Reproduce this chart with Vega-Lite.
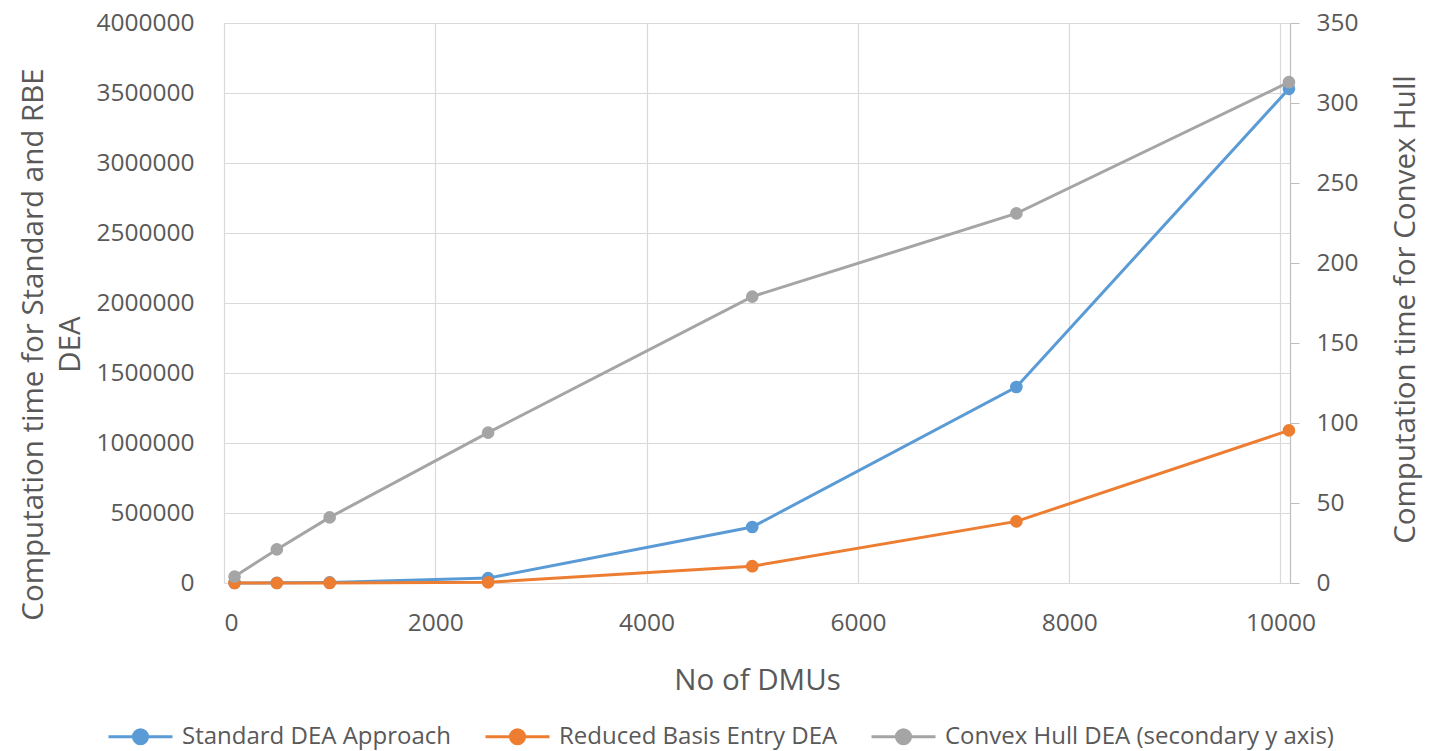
{
  "$schema": "https://vega.github.io/schema/vega-lite/v6.json",
  "width": 1066,
  "height": 560,
  "autosize": {"type": "none"},
  "padding": {"left": 224, "top": 23, "right": 150, "bottom": 168},
  "background": "white",
  "config": {
    "font": "Open Sans",
    "view": {"stroke": null},
    "axis": {
      "labelColor": "#595959",
      "titleColor": "#595959",
      "labelFont": "Open Sans",
      "titleFont": "Open Sans",
      "labelFontSize": 24.5,
      "titleFontSize": 29.5,
      "titleFontWeight": "normal",
      "gridColor": "#d9d9d9",
      "gridWidth": 1.2,
      "domain": false,
      "ticks": false
    },
    "legend": {
      "labelFont": "Open Sans",
      "labelFontSize": 24,
      "labelColor": "#595959",
      "labelLimit": 0
    }
  },
  "data": {
    "values": [
      {"n": 100, "series": "Standard DEA Approach", "t": 50},
      {"n": 500, "series": "Standard DEA Approach", "t": 1000},
      {"n": 1000, "series": "Standard DEA Approach", "t": 4000},
      {"n": 2500, "series": "Standard DEA Approach", "t": 35000},
      {"n": 5000, "series": "Standard DEA Approach", "t": 400000},
      {"n": 7500, "series": "Standard DEA Approach", "t": 1400000},
      {"n": 10080, "series": "Standard DEA Approach", "t": 3530000},
      {"n": 100, "series": "Reduced Basis Entry DEA", "t": 0},
      {"n": 500, "series": "Reduced Basis Entry DEA", "t": 0},
      {"n": 1000, "series": "Reduced Basis Entry DEA", "t": 500},
      {"n": 2500, "series": "Reduced Basis Entry DEA", "t": 5000},
      {"n": 5000, "series": "Reduced Basis Entry DEA", "t": 120000},
      {"n": 7500, "series": "Reduced Basis Entry DEA", "t": 440000},
      {"n": 10080, "series": "Reduced Basis Entry DEA", "t": 1090000},
      {"n": 100, "series": "Convex Hull DEA (secondary y axis)", "t": 4},
      {"n": 500, "series": "Convex Hull DEA (secondary y axis)", "t": 21},
      {"n": 1000, "series": "Convex Hull DEA (secondary y axis)", "t": 41},
      {"n": 2500, "series": "Convex Hull DEA (secondary y axis)", "t": 94},
      {"n": 5000, "series": "Convex Hull DEA (secondary y axis)", "t": 179},
      {"n": 7500, "series": "Convex Hull DEA (secondary y axis)", "t": 231},
      {"n": 10080, "series": "Convex Hull DEA (secondary y axis)", "t": 313}
    ]
  },
  "encoding": {
    "x": {
      "field": "n",
      "type": "quantitative",
      "scale": {"domain": [0, 10090], "nice": false},
      "axis": {
        "values": [0, 2000, 4000, 6000, 8000, 10000],
        "format": "d",
        "labelPadding": 28,
        "title": "No of DMUs",
        "titleX": 533,
        "titleY": 97,
        "titleBaseline": "middle"
      }
    },
    "color": {
      "field": "series",
      "type": "nominal",
      "scale": {
        "domain": ["Standard DEA Approach", "Reduced Basis Entry DEA", "Convex Hull DEA (secondary y axis)"],
        "range": ["#5b9bd5", "#ed7d31", "#a5a5a5"]
      },
      "legend": {
        "orient": "none",
        "direction": "horizontal",
        "legendX": -117,
        "legendY": 680,
        "title": null,
        "symbolType": "M-1,0H1M-0.22,0A0.22,0.22,0,1,1,0.22,0A0.22,0.22,0,1,1,-0.22,0Z",
        "symbolSize": 4096,
        "symbolStrokeWidth": 3,
        "labelOffset": 8,
        "columnPadding": 27,
        "encode": {
          "symbols": {
            "update": {
              "fill": {"scale": "color", "field": "value"},
              "stroke": {"scale": "color", "field": "value"},
              "fillOpacity": {"value": 1}
            }
          }
        }
      }
    }
  },
  "layer": [
    {
      "transform": [{"filter": "datum.series !== 'Convex Hull DEA (secondary y axis)'"}],
      "mark": {"type": "line", "strokeWidth": 3, "point": {"filled": true, "size": 160, "opacity": 1}},
      "encoding": {
        "y": {
          "field": "t",
          "type": "quantitative",
          "scale": {"domain": [0, 4000000], "nice": false},
          "axis": {
            "values": [0, 500000, 1000000, 1500000, 2000000, 2500000, 3000000, 3500000, 4000000],
            "format": "d",
            "labelPadding": 30,
            "title": ["Computation time for Standard and RBE", "DEA"],
            "titleAngle": 270,
            "titleAlign": "center",
            "titleBaseline": "middle",
            "titleLineHeight": 37,
            "titleX": -191,
            "titleY": 321
          }
        }
      }
    },
    {
      "transform": [{"filter": "datum.series === 'Convex Hull DEA (secondary y axis)'"}],
      "mark": {"type": "line", "strokeWidth": 3, "point": {"filled": true, "size": 160, "opacity": 1}},
      "encoding": {
        "y": {
          "field": "t",
          "type": "quantitative",
          "scale": {"domain": [0, 350], "nice": false},
          "axis": {
            "orient": "right",
            "values": [0, 50, 100, 150, 200, 250, 300, 350],
            "grid": false,
            "domain": true,
            "domainColor": "#bfbfbf",
            "domainWidth": 1.2,
            "ticks": true,
            "tickColor": "#bfbfbf",
            "tickSize": 9,
            "labelPadding": 17,
            "title": "Computation time for Convex Hull",
            "titleAngle": 270,
            "titleAlign": "center",
            "titleBaseline": "middle",
            "titleX": 115,
            "titleY": 286
          }
        }
      }
    }
  ],
  "resolve": {"scale": {"y": "independent"}}
}
